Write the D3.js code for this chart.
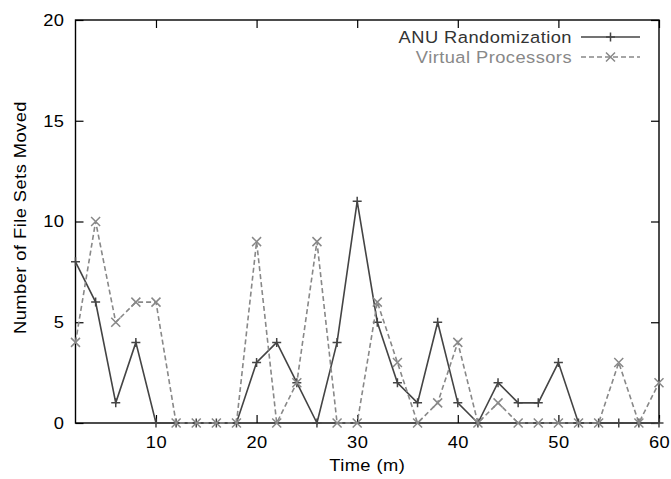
<!DOCTYPE html>
<html>
<head>
<meta charset="utf-8">
<script src="https://cdn.jsdelivr.net/npm/d3@7"></script>
<style>
  body { margin: 0; background: #fff; }
  svg text { font-family: "Liberation Sans", Arial, sans-serif; font-size: 16.5px; letter-spacing: 0.4px; }
</style>
</head>
<body>
<div id="chart"></div>
<script>
// time in minutes
const times = [2, 4, 6, 8, 10, 12, 14, 16, 18, 20, 22, 24, 26, 28, 30,
               32, 34, 36, 38, 40, 42, 44, 46, 48, 50, 52, 54, 56, 58, 60];
const anuValues = [8, 6, 1, 4, 0, 0, 0, 0, 0, 3, 4, 2, 0, 4, 11,
                   5, 2, 1, 5, 1, 0, 2, 1, 1, 3, 0, 0, 0, 0, 0];
const vpValues = [4, 10, 5, 6, 6, 0, 0, 0, 0, 9, 0, 2, 9, 0, 0,
                  6, 3, 0, 1, 4, 0, 1, 0, 0, 0, 0, 0, 3, 0, 2];
const xTicks = [10, 20, 30, 40, 50, 60];
const yTicks = [0, 5, 10, 15, 20];

const W = 671, H = 479;
const margin = { top: 20, right: 12, bottom: 56, left: 75.5 };
const width = W - margin.left - margin.right;
const height = H - margin.top - margin.bottom;
const stretchX = 1.11;

// the reference font is a little wider than Liberation Sans
function stretch(sel) {
    sel.each(function() {
        const t = d3.select(this);
        const tx = +t.attr("x") || 0;
        const old = t.attr("transform") || "";
        t.attr("x", 0).attr("transform", `${old} translate(${tx},0) scale(${stretchX},1)`);
    });
}

const svg = d3.select("#chart").append("svg")
    .attr("width", W)
    .attr("height", H);

const g = svg.append("g")
    .attr("transform", `translate(${margin.left},${margin.top})`);

const x = d3.scaleLinear().domain([2, 60]).range([0, width]);
const y = d3.scaleLinear().domain([0, 20]).range([height, 0]);

const axisColor = "#000";

// inward ticks on all four sides
g.append("g")
    .attr("transform", `translate(0,${height})`)
    .call(d3.axisBottom(x).tickValues(xTicks).tickSize(-8).tickPadding(13))
    .call(a => a.select(".domain").remove());
g.append("g")
    .call(d3.axisTop(x).tickValues(xTicks).tickSize(-8).tickFormat(""))
    .call(a => a.select(".domain").remove());
g.append("g")
    .call(d3.axisLeft(y).tickValues(yTicks).tickSize(-8).tickPadding(11))
    .call(a => a.select(".domain").remove());
g.append("g")
    .attr("transform", `translate(${width},0)`)
    .call(d3.axisRight(y).tickValues(yTicks).tickSize(-8).tickFormat(""))
    .call(a => a.select(".domain").remove());

g.selectAll(".tick line").attr("stroke", axisColor).attr("stroke-width", 1.2);
g.selectAll(".tick text").attr("fill", "#000").call(stretch);
g.selectAll("g").attr("font-family", null).attr("font-size", null);

g.append("rect")
    .attr("width", width)
    .attr("height", height)
    .attr("fill", "none")
    .attr("stroke", axisColor)
    .attr("stroke-width", 1.4);

// axis titles
svg.append("text")
    .attr("x", margin.left + width / 2)
    .attr("y", 471)
    .attr("text-anchor", "middle")
    .text("Time (m)")
    .call(stretch);

svg.append("text")
    .attr("transform", `translate(26,${margin.top + height / 2 - 4}) rotate(-90)`)
    .attr("text-anchor", "middle")
    .text("Number of File Sets Moved")
    .call(stretch);

const series = [
    { name: "ANU Randomization", values: anuValues, color: "#444", dash: null, marker: "plus", textColor: "#333" },
    { name: "Virtual Processors", values: vpValues, color: "#888", dash: "5,3", marker: "cross", textColor: "#888" }
];

const line = d3.line()
    .x(d => x(d[0]))
    .y(d => y(d[1]));

function drawMarker(sel, type, color) {
    const s = 4.5;
    const path = type === "plus"
        ? `M${-s},0H${s}M0,${-s}V${s}`
        : `M${-s},${-s}L${s},${s}M${-s},${s}L${s},${-s}`;
    sel.append("path")
        .attr("d", path)
        .attr("stroke", color)
        .attr("stroke-width", 1.5)
        .attr("fill", "none");
}

series.forEach(s => {
    const pts = times.map((t, i) => [t, s.values[i]]);
    g.append("path")
        .datum(pts)
        .attr("d", line)
        .attr("fill", "none")
        .attr("stroke", s.color)
        .attr("stroke-width", 1.6)
        .attr("stroke-dasharray", s.dash);

    g.selectAll(null)
        .data(pts)
        .enter()
        .append("g")
        .attr("transform", d => `translate(${x(d[0])},${y(d[1])})`)
        .each(function() { drawMarker(d3.select(this), s.marker, s.color); });
});

// legend
const legend = svg.append("g").attr("transform", "translate(572,37)");
series.forEach((s, i) => {
    const row = legend.append("g").attr("transform", `translate(0,${i * 20})`);
    row.append("text")
        .attr("x", 0)
        .attr("y", 0)
        .attr("dy", "0.35em")
        .attr("text-anchor", "end")
        .attr("fill", s.textColor)
        .text(s.name)
        .call(stretch);
    row.append("line")
        .attr("x1", 9).attr("x2", 68)
        .attr("stroke", s.color)
        .attr("stroke-width", 1.6)
        .attr("stroke-dasharray", s.dash);
    const m = row.append("g").attr("transform", "translate(38.5,0)");
    drawMarker(m, s.marker, s.color);
});
</script>
</body>
</html>
